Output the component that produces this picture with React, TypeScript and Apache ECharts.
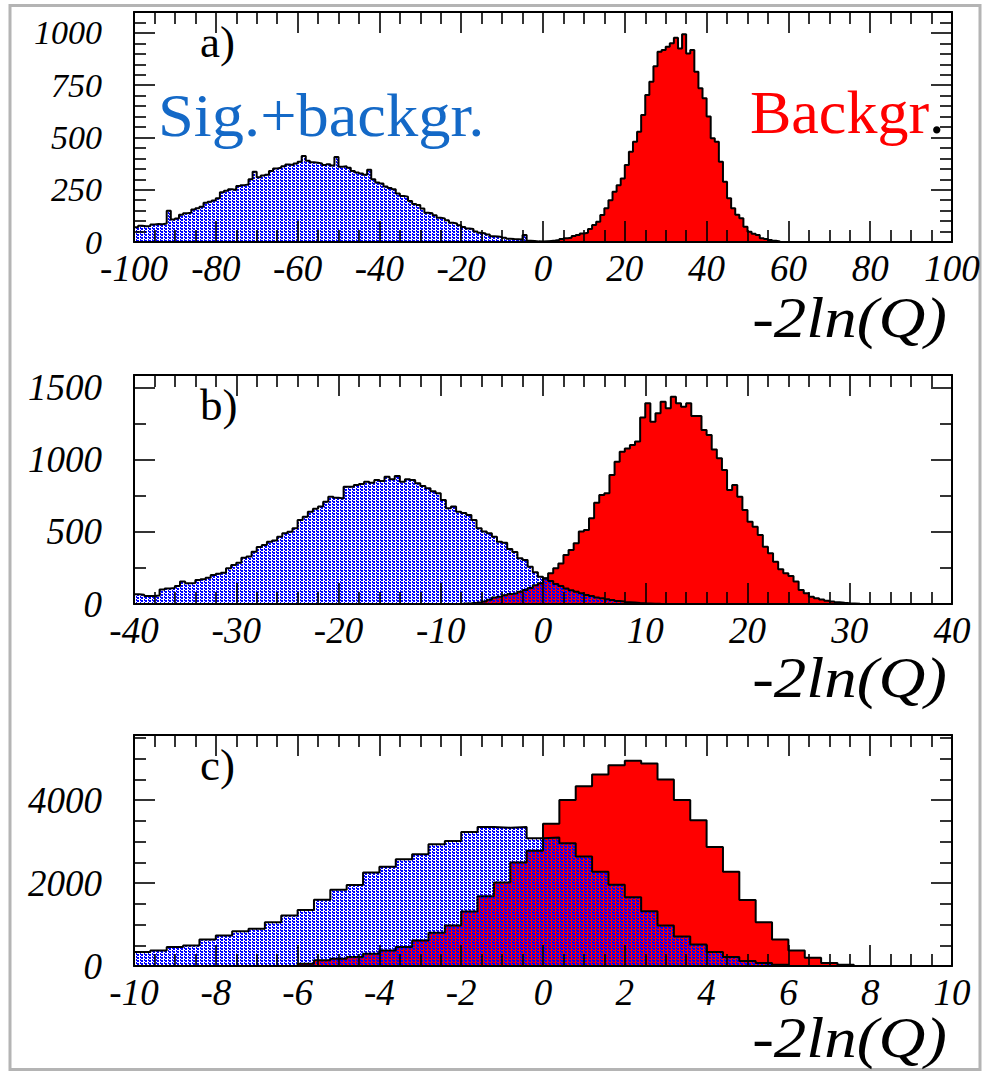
import { useEffect, useRef } from "react";
import * as echarts from "echarts";

const SERIF = "'Liberation Serif', 'Times New Roman', serif";

// ---- Panel a) : bins of 1 unit ----
const binA = 1;
const sigBkgStartA = -100;
const sigBkgA = [
  70, 78, 75, 77, 84, 86, 85, 88, 150, 108, 112, 130, 138, 140, 155, 162, 168, 188, 193, 198,
  209, 238, 245, 252, 249, 268, 272, 275, 300, 336, 310, 318, 322, 340, 352, 355, 362, 371, 368, 376,
  384, 411, 388, 381, 379, 376, 368, 372, 366, 406, 360, 362, 355, 340, 332, 328, 322, 345, 300, 284,
  280, 266, 258, 252, 232, 220, 217, 196, 182, 177, 160, 140, 137, 128, 116, 113, 104, 92, 89, 80,
  72, 65, 62, 50, 44, 41, 36, 28, 26, 24, 20, 16, 14, 13, 12, 34, 6, 5, 3, 2, 2, 1,
];
const bkgStartA = 0;
const bkgA = [
  3, 5, 7, 10, 14, 18, 20, 29, 33, 41, 44, 62, 81, 97, 129, 161, 200, 240, 272, 304,
  368, 432, 480, 527, 607, 703, 766, 840, 910, 918, 934, 950, 977, 926, 993, 902, 918, 814, 735, 687,
  600, 496, 479, 384, 288, 209, 161, 130, 113, 73, 49, 40, 33, 18, 14, 10, 6, 3,
];

// ---- Panel b) : bins of 0.5 unit ----
const binB = 0.5;
const sigBkgStartB = -40;
const sigBkgB = [
  67, 64, 55, 55, 58, 101, 108, 110, 125, 155, 143, 145, 166, 172, 182, 201, 210, 217, 247, 270,
  286, 320, 328, 362, 395, 408, 431, 440, 466, 489, 500, 524, 581, 604, 639, 660, 674, 708, 743, 735,
  731, 812, 812, 824, 830, 847, 840, 858, 852, 881, 863, 886, 847, 863, 858, 835, 817, 801, 780, 766,
  720, 662, 674, 639, 630, 616, 581, 524, 501, 489, 466, 431, 424, 380, 360, 316, 304, 258, 219, 189,
  177, 160, 138, 125, 108, 96, 85, 74, 62, 55, 45, 39, 33, 27, 21, 17, 12, 10, 7, 5, 4, 2, 1,
];
const bkgStartB = -8;
const bkgB = [
  3, 5, 8, 12, 18, 30, 45, 51, 60, 70, 74, 85, 97, 110, 130, 143,
  178, 212, 247, 281, 339, 374, 420, 501, 512, 593, 700, 754, 766, 893, 985, 1054, 1077, 1100, 1124, 1290,
  1389, 1262, 1320, 1400, 1354, 1435, 1389, 1366, 1389, 1301, 1301, 1204, 1170, 1070, 1008, 927, 789, 824, 743, 651,
  570, 535, 478, 397, 351, 293, 240, 212, 194, 155, 97, 74, 51, 40, 32, 23, 18, 12, 8, 5, 3, 1,
];

// ---- Panel c) : bins of 0.4 unit ----
const binC = 0.4;
const sigBkgStartC = -10;
const sigBkgC = [
  336, 376, 456, 496, 640, 736, 840, 896, 1056, 1216, 1352, 1600, 1840, 1952, 2256, 2392, 2576, 2696, 2936, 3016,
  3232, 3352, 3336, 3352, 3080, 3096, 2960, 2640, 2272, 1960, 1656, 1320, 976, 712, 520, 336, 216, 120, 72, 32,
];
const bkgStartC = -6;
const bkgC = [
  56, 136, 176, 216, 296, 376, 456, 616, 800, 976, 1312, 1680, 2016, 2496, 2776, 3432, 4000, 4336, 4616, 4840,
  4952, 4880, 4496, 4000, 3512, 2872, 2272, 1592, 1056, 640, 376, 200, 72, 32,
];

// axis ranges: [min, max, label interval, minor divisions]
const xAxisA = [-100, 100, 20, 4];
const yAxisA = [0, 1100, 250, 5];
const xAxisB = [-40, 40, 10, 5];
const yAxisB = [0, 1585, 500, 2];
const xAxisC = [-10, 10, 2, 4];
const yAxisC = [0, 5570, 2000, 4];

const panelLabels = ["a)", "b)", "c)"];
const xTitle = "-2ln(Q)";
const sigLabel = "Sig.+backgr.";
const bkgLabel = "Backgr";

// Step outline of a histogram: start at zero, one point per bin left edge, close at zero.
function histPoints(start: number, width: number, counts: number[]) {
  const pts: number[][] = [[start, 0]];
  counts.forEach((c, i) => pts.push([+(start + i * width).toFixed(4), c]));
  pts.push([+(start + counts.length * width).toFixed(4), 0]);
  return pts;
}

// Blue dash hatch tile (transparent gaps let the red fill show through).
function makeHatch() {
  const cells = ["###.", ".##.", "#..."];
  const w = cells[0].length;
  const h = cells.length;
  let rects = "";
  cells.forEach((row, y) =>
    row.split("").forEach((ch, x) => {
      if (ch === "#") rects += `<rect x='${x}' y='${y}' width='1' height='1' fill='#0000ff'/>`;
    })
  );
  const svg = `<svg xmlns='http://www.w3.org/2000/svg' width='${w}' height='${h}' shape-rendering='crispEdges'>${rects}</svg>`;
  return {
    image: "data:image/svg+xml;charset=utf-8," + encodeURIComponent(svg),
    repeat: "repeat",
    imageWidth: w,
    imageHeight: h,
  };
}

const tickLine = { color: "#000", width: 1.6 };
const plain = (v: number) => String(v);

function xAxes(grid: number, r: number[], labelSize: number) {
  const base = {
    type: "value",
    gridIndex: grid,
    min: r[0],
    max: r[1],
    interval: r[2],
    z: 4,
    splitLine: { show: false },
    axisLine: { show: true, onZero: false, lineStyle: { color: "#000", width: 2 } },
    axisTick: { show: true, inside: true, length: 21, lineStyle: tickLine },
    minorTick: { show: true, splitNumber: r[3], length: 12, lineStyle: tickLine },
  };
  return [
    {
      ...base,
      position: "bottom",
      axisLabel: {
        show: true,
        margin: 8,
        color: "#000",
        fontFamily: SERIF,
        fontStyle: "italic",
        fontSize: labelSize,
        formatter: plain,
      },
    },
    { ...base, position: "top", axisLabel: { show: false } },
  ];
}

function yAxes(grid: number, r: number[], labelSize: number) {
  const base = {
    type: "value",
    gridIndex: grid,
    min: r[0],
    max: r[1],
    interval: r[2],
    z: 4,
    splitLine: { show: false },
    axisLine: { show: true, onZero: false, lineStyle: { color: "#000", width: 2 } },
    axisTick: { show: true, inside: true, length: 21, lineStyle: tickLine },
    minorTick: { show: true, splitNumber: r[3], length: 12, lineStyle: tickLine },
  };
  return [
    {
      ...base,
      position: "left",
      axisLabel: {
        show: true,
        margin: 32,
        showMaxLabel: false,
        color: "#000",
        fontFamily: SERIF,
        fontStyle: "italic",
        fontSize: labelSize,
        formatter: plain,
      },
    },
    { ...base, position: "right", axisLabel: { show: false } },
  ];
}

function histSeries(axisIdx: number, pts: number[][], fill: any, name: string) {
  return {
    name,
    type: "line",
    xAxisIndex: axisIdx,
    yAxisIndex: axisIdx,
    data: pts,
    step: "end",
    symbol: "none",
    silent: true,
    lineStyle: { color: "#000", width: 2 },
    areaStyle: { color: fill, opacity: 1 },
  };
}

export default function App() {
  const ref = useRef<HTMLDivElement>(null);

  useEffect(() => {
    if (!ref.current) return;
    const chart = echarts.init(ref.current, undefined, { renderer: "svg" });
    const hatch = makeHatch();
    const red = "#ff0000";

    const grids = [
      { left: 134, top: 12, width: 818, height: 230 },
      { left: 134, top: 375, width: 818, height: 229 },
      { left: 134, top: 735, width: 818, height: 231 },
    ];

    const xAxis = [...xAxes(0, xAxisA, 37), ...xAxes(1, xAxisB, 37), ...xAxes(2, xAxisC, 37)];
    const yAxis = [...yAxes(0, yAxisA, 34), ...yAxes(1, yAxisB, 37), ...yAxes(2, yAxisC, 37)];

    const series = [
      histSeries(0, histPoints(bkgStartA, binA, bkgA), red, "Backgr. a"),
      histSeries(0, histPoints(sigBkgStartA, binA, sigBkgA), hatch, "Sig.+backgr. a"),
      histSeries(2, histPoints(bkgStartB, binB, bkgB), red, "Backgr. b"),
      histSeries(2, histPoints(sigBkgStartB, binB, sigBkgB), hatch, "Sig.+backgr. b"),
      histSeries(4, histPoints(bkgStartC, binC, bkgC), red, "Backgr. c"),
      histSeries(4, histPoints(sigBkgStartC, binC, sigBkgC), hatch, "Sig.+backgr. c"),
    ];

    const panelTops = [12, 375, 735];
    const titleBaselines = [337, 697, 1057];
    const graphic: any[] = [
      {
        type: "rect",
        shape: { x: 10, y: 5.5, width: 970, height: 1064 },
        style: { fill: "none", stroke: "#b4b4b4", lineWidth: 3 },
        silent: true,
      },
    ];
    panelLabels.forEach((t, i) => {
      graphic.push({
        type: "text",
        x: 200,
        y: panelTops[i] + 45 - 15,
        style: {
          text: t,
          fontFamily: SERIF,
          fontSize: 45,
          fill: "#000",
          align: "left",
          verticalAlign: "middle",
        },
        z: 10,
      });
      graphic.push({
        type: "text",
        x: 947,
        y: titleBaselines[i] - 20,
        scaleX: 1.12,
        style: {
          text: xTitle,
          fontFamily: SERIF,
          fontStyle: "italic",
          fontSize: 58,
          fill: "#000",
          align: "right",
          verticalAlign: "middle",
        },
        z: 10,
      });
    });
    graphic.push({
      type: "text",
      x: 158,
      y: 136 - 21,
      scaleX: 1.04,
      style: {
        text: sigLabel,
        fontFamily: SERIF,
        fontSize: 62,
        fill: "#1469c7",
        align: "left",
        verticalAlign: "middle",
      },
      z: 10,
    });
    graphic.push({
      type: "text",
      x: 750,
      y: 133 - 21,
      style: {
        text: "{r|" + bkgLabel + "}{k|.}",
        fontFamily: SERIF,
        fontSize: 62,
        align: "left",
        verticalAlign: "middle",
        rich: {
          r: { fill: red, fontFamily: SERIF, fontSize: 62 },
          k: { fill: "#000", fontFamily: SERIF, fontSize: 62 },
        },
      },
      z: 10,
    });

    chart.setOption({
      animation: false,
      backgroundColor: "#ffffff",
      grid: grids,
      xAxis,
      yAxis,
      series,
      graphic,
    });

    return () => chart.dispose();
  }, []);

  return (
    <div
      ref={ref}
      style={{ position: "fixed", left: 0, top: 0, width: 990, height: 1073, background: "#fff" }}
    />
  );
}
